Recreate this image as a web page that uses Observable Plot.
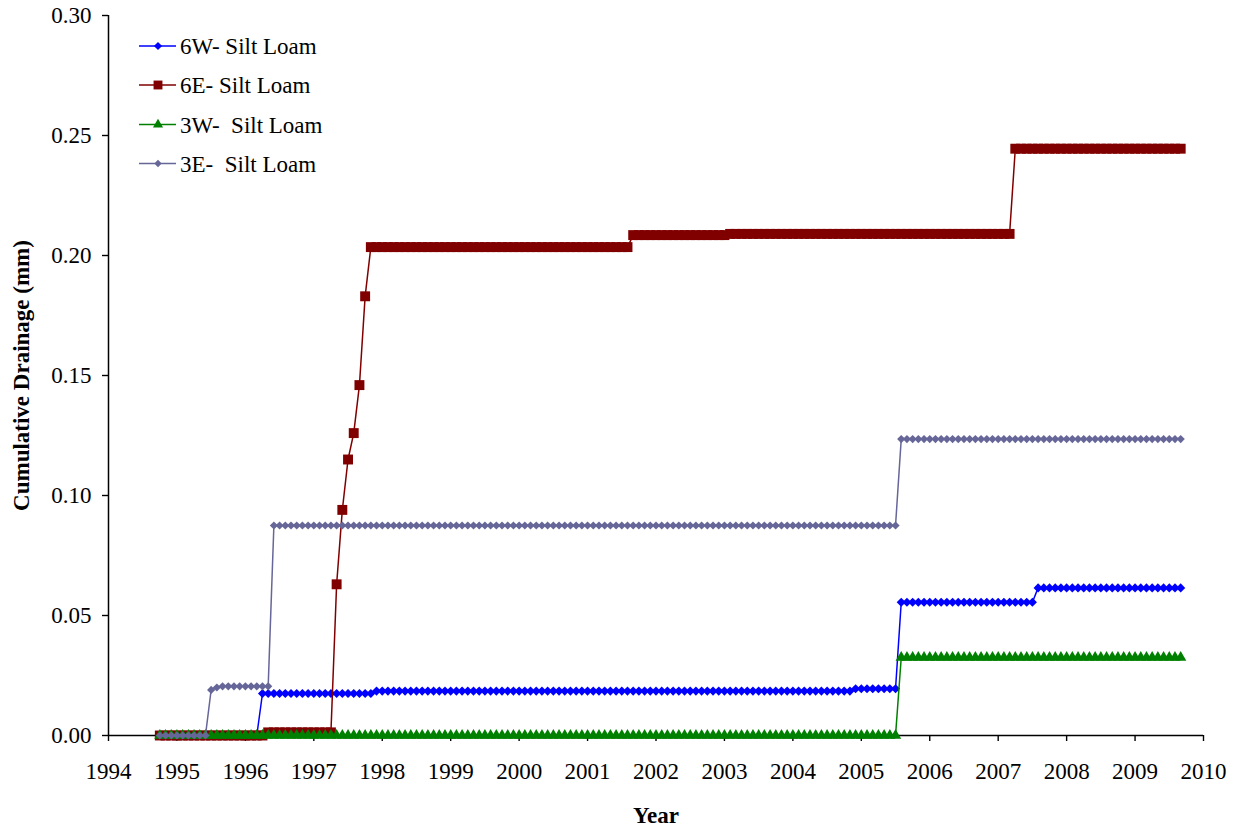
<!DOCTYPE html>
<html><head><meta charset="utf-8">
<script src="https://cdn.jsdelivr.net/npm/d3@7"></script>
<script src="https://cdn.jsdelivr.net/npm/@observablehq/plot@0.6"></script>
<style>
body{margin:0;background:#fff;}
#wrap{position:relative;width:1240px;height:830px;}
#legend{position:absolute;left:0;top:0;}
g[aria-label="x-axis label"] text, g[aria-label="y-axis label"] text{font-weight:bold;}
g[aria-label="x-axis tick"] path, g[aria-label="y-axis tick"] path{stroke-width:1.4;}
</style>
</head><body>
<div id="wrap"></div>
<script>
// Series names (legend order)
const seriesNames = ["6W- Silt Loam", "6E- Silt Loam", "3W-  Silt Loam", "3E-  Silt Loam"];
const seriesColors = ["#0000FF", "#800000", "#008000", "#666699"];
const seriesSymbols = ["diamond2", "square", "triangle", "diamond2"];

// Monthly record: first month Oct 1994, 180 months (to Sep 2009)
const startYear = 1994;
const startMonth = 9; // 0-based, October
const monthCount = 180;

// Values, as runs of [number of months, cumulative drainage (mm)]
const runs6W = [[18, 0], [20, 0.0175], [84, 0.0185], [8, 0.0195], [24, 0.0555], [26, 0.0615]];
const runs6E = [[19, 0], [12, 0.0013], [1, 0.063], [1, 0.094], [1, 0.115], [1, 0.126], [1, 0.146], [1, 0.183],
                [46, 0.2035], [17, 0.2085], [50, 0.209], [30, 0.2445]];
const runs3W = [[130, 0], [50, 0.0325]];
const runs3E = [[9, 0], [1, 0.019], [1, 0.020], [9, 0.0205], [110, 0.0875], [50, 0.1235]];

// Axis ticks
const xTicks = [1994, 1995, 1996, 1997, 1998, 1999, 2000, 2001, 2002, 2003, 2004, 2005, 2006, 2007, 2008, 2009, 2010];
const yTicks = [0, 0.05, 0.10, 0.15, 0.20, 0.25, 0.30];

const allRuns = [runs6W, runs6E, runs3W, runs3E];

function expand(runs, name) {
  const out = [];
  let i = 0;
  for (const [n, v] of runs) {
    for (let k = 0; k < n; k++) {
      out.push({series: name, t: startYear + (startMonth + i) / 12, v});
      i++;
    }
  }
  return out;
}
const data = allRuns.map((r, j) => expand(r, seriesNames[j]));

const font = '"Liberation Serif","Times New Roman",Times,serif';
const marks = [
  Plot.axisX({ticks: xTicks, tickFormat: d => String(d), tickSize: 6, tickPadding: 21, label: null}),
  Plot.axisX({ticks: [], tickSize: 0, label: "Year", labelAnchor: "center", labelOffset: 87, labelArrow: "none", dx: 8}),
  Plot.axisY({ticks: yTicks, tickFormat: d3.format(".2f"), tickSize: 6, tickPadding: 11,
      label: "Cumulative Drainage (mm)", labelAnchor: "center", labelOffset: 96, labelArrow: "none"}),
  Plot.ruleX([1994], {stroke: "#000", strokeWidth: 1.5}),
  Plot.ruleY([0], {stroke: "#000", strokeWidth: 1.5})
];
const dotR = [4.1, 5.6, 4.2, 3.7];
data.forEach((d, j) => {
  marks.push(Plot.line(d, {x: "t", y: "v", stroke: seriesColors[j], strokeWidth: 1.5}));
  marks.push(Plot.dot(d, {x: "t", y: "v", symbol: seriesSymbols[j], r: dotR[j], fill: seriesColors[j], stroke: "none"}));
});

const chart = Plot.plot({
  width: 1240,
  height: 830,
  marginLeft: 108,
  marginRight: 37,
  marginTop: 15,
  marginBottom: 95,
  style: {fontFamily: font, fontSize: "23px", color: "#000", background: "#fff", overflow: "visible"},
  x: {domain: [1994, 2010]},
  y: {domain: [0, 0.30]},
  marks
});
document.getElementById("wrap").appendChild(chart);

// Legend (inside the plot area, upper left)
const leg = d3.select("#wrap").append("svg").attr("id", "legend")
  .attr("width", 400).attr("height", 200)
  .style("font-family", font).style("font-size", "23px");
const rowY = [46, 85, 124.5, 163.5];
seriesNames.forEach((name, j) => {
  const g = leg.append("g").attr("transform", `translate(0,${rowY[j]})`);
  g.append("line").attr("x1", 139).attr("x2", 176).attr("y1", 0).attr("y2", 0)
    .attr("stroke", seriesColors[j]).attr("stroke-width", 1.5);
  const sym = {diamond2: d3.symbolDiamond2, square: d3.symbolSquare, triangle: d3.symbolTriangle}[seriesSymbols[j]];
  g.append("path").attr("d", d3.symbol(sym, Math.PI * dotR[j] * dotR[j] * 0.8)())
    .attr("transform", "translate(158,0)").attr("fill", seriesColors[j]);
  g.append("text").attr("x", 180).attr("y", 0).attr("dy", "0.35em")
    .style("white-space", "pre").attr("xml:space", "preserve").text(name);
});
</script>
</body></html>
